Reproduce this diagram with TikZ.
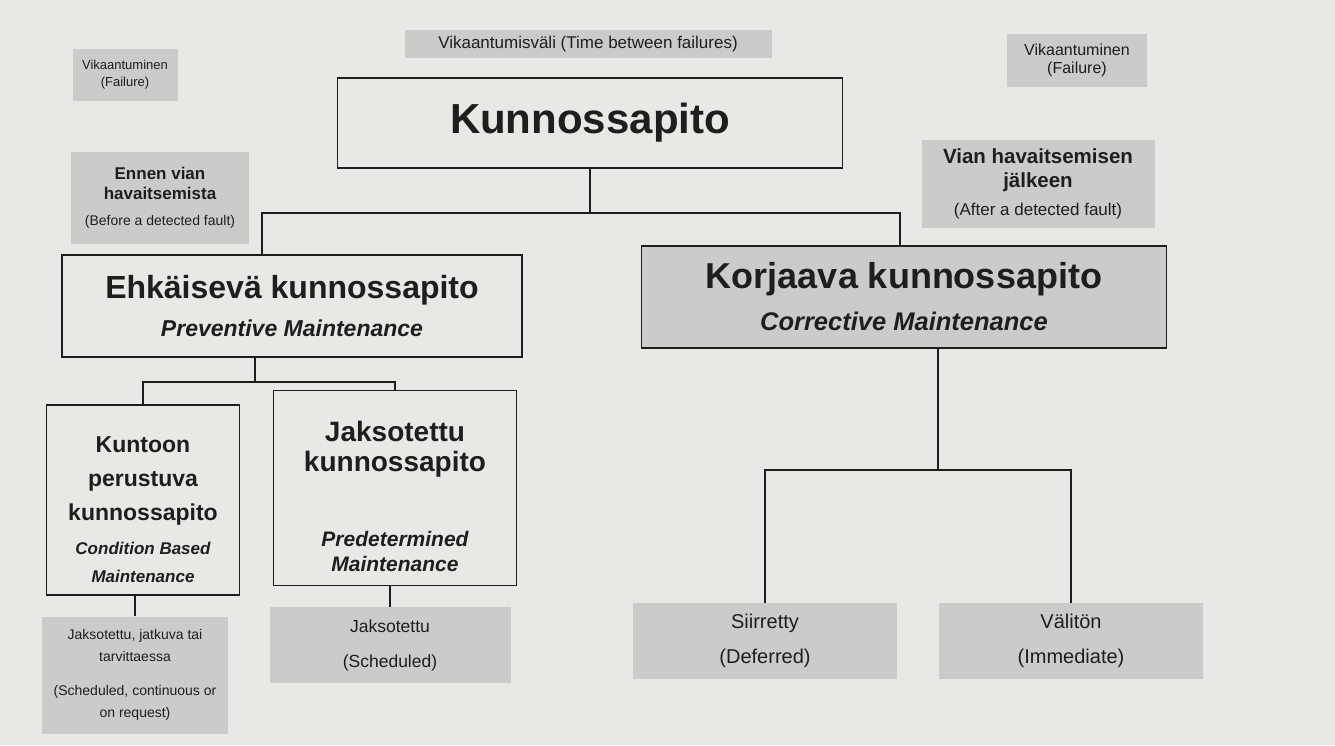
\documentclass[tikz,border=0pt]{standalone}
\usepackage{fontspec}
\setmainfont{Liberation Sans}
\usepackage{tikz}
\tikzset{>=latex}
\usetikzlibrary{positioning}

\definecolor{paper}{HTML}{EAE8E5}
\definecolor{shade}{HTML}{CCCBC9}
\definecolor{ink}{HTML}{1E1E1E}
\newcommand{\fsz}[2]{\fontsize{#1}{#2}\selectfont}

\tikzset{
  mainbox/.style={draw=ink, line width=1.6pt, fill=paper, inner sep=0pt, align=center, text=ink},
  tagbox/.style={fill=shade, inner sep=0pt, align=center, text=ink},
  link/.style={draw=ink, line width=1.3pt},
}

\begin{document}
\begin{tikzpicture}[x=1pt, y=-1pt]

% page
\fill[paper] (0,0) rectangle (1335,745);

% labels on the time line
\node[tagbox, minimum width=367, minimum height=28, font=\fsz{17}{20}] (tbf) at (588,44) {Vikaantumisväli (Time between failures)};
\node[tagbox, minimum width=105, minimum height=52, font=\fsz{13}{17}] (failL) at (125,75) {Vikaantuminen\\(Failure)};
\node[tagbox, minimum width=140, minimum height=53, font=\fsz{16}{18}] (failR) at (1077,60) {Vikaantuminen\\(Failure)};

% root
\node[mainbox, minimum width=505, minimum height=90, font=\fsz{42}{46}\bfseries] (kp) at (590,123) {Kunnossapito};

\node[tagbox, minimum width=178, minimum height=92, font=\fsz{17}{20}\bfseries] (before) at (160,198) {Ennen vian\\havaitsemista\\[6pt]{\fsz{14}{16}\mdseries (Before a detected fault)}};
\node[tagbox, minimum width=233, minimum height=88, font=\fsz{20.5}{24}\bfseries] (after) at (1038,184) {Vian havaitsemisen\\jälkeen\\[4pt]{\fsz{17}{20}\mdseries (After a detected fault)}};

% second level
\node[mainbox, minimum width=460, minimum height=102, font=\fsz{32}{38}\bfseries] (prev) at (292,306) {Ehkäisevä kunnossapito\\{\fsz{23}{26}\itshape Preventive Maintenance}};
\node[mainbox, fill=shade, minimum width=525, minimum height=102, font=\fsz{36}{42}\bfseries] (corr) at (904,297) {Korjaava kunnossapito\\{\fsz{25.5}{28}\itshape Corrective Maintenance}};

% third level
\node[mainbox, minimum width=193, minimum height=190, font=\fsz{23}{34}\bfseries] (cond) at (143,500) {\rule{0pt}{35pt}Kuntoon\\perustuva\\kunnossapito\\{\fsz{17}{28}\itshape Condition Based}\\[-6pt]{\fsz{17}{28}\itshape Maintenance}};
\node[mainbox, minimum width=243, minimum height=195, font=\fsz{28}{30}\bfseries] (sched) at (395,488) {\rule{0pt}{37pt}Jaksotettu\\kunnossapito\\[45pt]{\fsz{21}{25}\itshape Predetermined}\\[-5pt]{\fsz{21}{25}\itshape Maintenance}};

% bottom row
\node[tagbox, minimum width=186, minimum height=117, font=\fsz{14}{22}] (lowl) at (135,675) {Jaksotettu, jatkuva tai\\tarvittaessa\\[12pt](Scheduled, continuous or\\on request)};
\node[tagbox, minimum width=241, minimum height=76, font=\fsz{17.5}{35}] (sch) at (390,645) {Jaksotettu\\(Scheduled)};

\foreach \name/\x/\fin/\eng in {defer/765/Siirretty/Deferred, immed/1071/Välitön/Immediate}{
  \node[tagbox, minimum width=264, minimum height=76, font=\fsz{20}{35}] (\name) at (\x,641) {\fin\\(\eng)};
}

% connectors
\coordinate (kpj) at (590,213);
\coordinate (kpl) at (262,213);
\coordinate (kpr) at (900,213);
\draw[link] (kp.south) -- (kpj);
\draw[link] (kpl |- prev.north) -- (kpl) -- (kpr) -- (kpr |- corr.north);

\coordinate (pj) at (255,382);
\draw[link] (prev.south -| pj) -- (pj);
\draw[link] (cond.north) |- (pj) -| (sched.north);
\draw[link] (lowl.north) -- (lowl.north |- cond.south);
\draw[link] (sch.north) -- (sch.north |- sched.south);

\coordinate (cj) at (938,470);
\draw[link] (corr.south -| cj) -- (cj);
\draw[link] (defer.north) |- (cj) -| (immed.north);

\end{tikzpicture}
\end{document}
